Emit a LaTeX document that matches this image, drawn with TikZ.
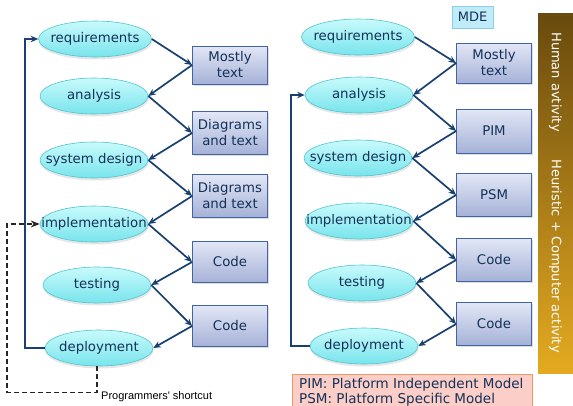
\documentclass[tikz,border=0pt]{standalone}
\usepackage{fontspec}
\setmainfont{DejaVu Sans}
\newfontfamily\arialfont{Liberation Sans}
\usetikzlibrary{shapes.geometric,arrows.meta,shadows}
\definecolor{txt}{RGB}{20,50,88}
\definecolor{arr}{RGB}{24,64,112}
\definecolor{ellT}{RGB}{200,250,252}
\definecolor{ellBot}{RGB}{120,228,236}
\definecolor{ellB}{RGB}{80,196,206}
\definecolor{boxT}{RGB}{226,231,246}
\definecolor{boxBot}{RGB}{165,177,215}
\definecolor{boxB}{RGB}{66,100,160}
\definecolor{barT}{RGB}{104,74,14}
\definecolor{barB}{RGB}{228,170,32}
\definecolor{legF}{RGB}{251,206,200}
\definecolor{legB}{RGB}{242,150,100}
\definecolor{mdeF}{RGB}{192,236,250}
\definecolor{mdeB}{RGB}{140,206,232}
\tikzset{
  phase/.style={ellipse, draw=ellB, line width=0.6pt, top color=ellT, bottom color=ellBot,
    minimum width=108pt, minimum height=36pt, inner sep=0pt, text=txt,
    font=\fontsize{13.3}{16}\selectfont,
    drop shadow={shadow xshift=0.5pt, shadow yshift=-2.5pt, opacity=0.2}},
  doc/.style={rectangle, draw=boxB, line width=0.8pt, top color=boxT, bottom color=boxBot,
    minimum width=75pt, minimum height=41pt, inner sep=0pt, align=center, text=txt,
    font=\fontsize{13.3}{16}\selectfont,
    drop shadow={shadow xshift=1pt, shadow yshift=-1.5pt, opacity=0.25}},
  flow/.style={draw=arr, line width=1.7pt, -{Stealth[length=7.5pt,width=6.5pt]}},
  shortcut/.style={draw=black!85, line width=1.5pt, dash pattern=on 5pt off 3pt, -{Stealth[length=9pt,width=7pt]}},
  bartext/.style={rotate=-90, text=white, font=\fontsize{13}{16}\selectfont},
  legtext/.style={anchor=base west, inner sep=0pt, text=txt, font=\fontsize{13.5}{16}\selectfont},
}
\begin{document}
\begin{tikzpicture}[x=1pt,y=-1pt]
\useasboundingbox (0,0) rectangle (573,405);
% left column
\node[phase, minimum width=113pt] (l1) at (95,39) {\makebox[0pt]{requirements}};
\node[phase] (l2) at (94,96) {\makebox[0pt]{analysis}};
\node[phase] (l3) at (94,160) {\makebox[0pt]{system design}};
\node[phase] (l4) at (94,224) {\makebox[0pt]{implementation}};
\node[phase] (l5) at (97,285) {\makebox[0pt]{testing}};
\node[phase] (l6) at (99,348) {\makebox[0pt]{deployment}};
\node[doc, minimum height=38pt] (lb1) at (230,65) {Mostly\\text};
\node[doc, minimum height=43pt] (lb2) at (230,133) {Diagrams\\and text};
\node[doc, minimum height=43pt] (lb3) at (230,196) {Diagrams\\and text};
\node[doc] (lb4) at (230,262) {Code};
\node[doc] (lb5) at (230,326) {Code};
\draw[flow] (l1.east) -- (lb1.west);
\draw[flow] (lb1.west) -- (l2.east);
\draw[flow] (l2.east) -- (lb2.west);
\draw[flow] (lb2.west) -- (l3.east);
\draw[flow] (l3.east) -- (lb3.west);
\draw[flow] (lb3.west) -- (l4.east);
\draw[flow] (l4.east) -- (lb4.west);
\draw[flow] (lb4.west) -- (l5.east);
\draw[flow] (l5.east) -- (lb5.west);
\draw[flow] (lb5.west) -- (l6.east);
\draw[flow] (l6.west) -- ++(-20,0) |- (l1.west);
\draw[shortcut] (l6.south) ++(-2,0) -- ++(0,26) -- ++(-90,0) |- (l4.west);
\node[anchor=west, inner sep=0pt, font=\arialfont\fontsize{11}{13}\selectfont] (sc) at (101,397) {Programmers' shortcut};
% right column
\node[phase, minimum width=113pt] (r1) at (358,37) {\makebox[0pt]{requirements}};
\node[phase] (r2) at (359,95) {\makebox[0pt]{analysis}};
\node[phase] (r3) at (358,158) {\makebox[0pt]{system design}};
\node[phase] (r4) at (359,221) {\makebox[0pt]{implementation}};
\node[phase] (r5) at (362,283) {\makebox[0pt]{testing}};
\node[phase] (r6) at (364,346) {\makebox[0pt]{deployment}};
\node[doc, minimum height=40pt] (rb1) at (494,63) {Mostly\\text};
\node[doc, minimum height=44pt] (rb2) at (494,131) {PIM};
\node[doc, minimum height=43pt] (rb3) at (494,195) {PSM};
\node[doc, minimum height=43pt] (rb4) at (494,260) {Code};
\node[doc, minimum height=43pt] (rb5) at (494,324) {Code};
\draw[flow] (r1.east) -- (rb1.west);
\draw[flow] (rb1.west) -- (r2.east);
\draw[flow] (r2.east) -- (rb2.west);
\draw[flow] (rb2.west) -- (r3.east);
\draw[flow] (r3.east) -- (rb3.west);
\draw[flow] (rb3.west) -- (r4.east);
\draw[flow] (r4.east) -- (rb4.west);
\draw[flow] (rb4.west) -- (r5.east);
\draw[flow] (r5.east) -- (rb5.west);
\draw[flow] (rb5.west) -- (r6.east);
\draw[flow] (r6.west) -- ++(-19,0) |- (r2.west);
% MDE tag
\node[rectangle, draw=mdeB, line width=0.7pt, fill=mdeF, minimum width=41pt, minimum height=22pt,
  inner sep=0pt, text=txt, font=\fontsize{13}{16}\selectfont,
  drop shadow={shadow xshift=1pt, shadow yshift=-1pt, opacity=0.15}] (mde) at (472.5,17) {MDE};
% activity bar
\node[rectangle, inner sep=0pt, minimum width=35pt, minimum height=360pt,
  top color=barT, bottom color=barB] (bar) at (555.5,193) {};
\node[bartext] (hum) at (555.5,82) {Human avtivity};
\node[bartext] (heu) at (555.5,256) {Heuristic + Computer activity};
% legend
\node[rectangle, draw=legB, line width=0.8pt, fill=legF, anchor=north west, inner sep=0pt,
  minimum width=240pt, minimum height=45pt] (leg) at (292,374) {};
\node[legtext] (pim) at (299,388) {PIM: Platform Independent Model};
\node[legtext] (psm) at (299,403) {PSM: Platform Specific Model};
\end{tikzpicture}
\end{document}
